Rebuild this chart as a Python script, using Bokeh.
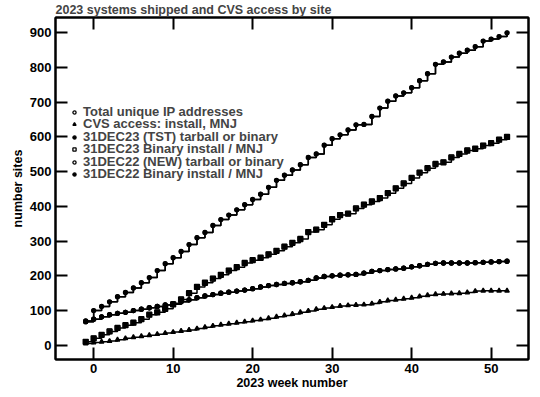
from bokeh.plotting import figure
from bokeh.models import Range1d, LinearAxis, FixedTicker, Legend, LegendItem
from bokeh.embed import file_html
from bokeh.resources import INLINE

weeks = list(range(-1, 53))

total_ip = [70, 100, 112, 125, 140, 152, 165, 180, 195, 215, 235, 252, 270, 290, 310, 325,
            345, 362, 375, 390, 405, 420, 435, 455, 475, 490, 505, 520, 541, 551, 576, 595,
            606, 620, 635, 636, 659, 683, 703, 718, 727, 742, 762, 782, 809, 816, 830, 841,
            850, 860, 876, 882, 889, 900]
cvs_access = [5, 8, 10, 12, 16, 20, 23, 26, 29, 32, 35, 38, 41, 44, 48, 52, 56, 59, 62, 65,
              68, 71, 74, 78, 82, 86, 90, 95, 99, 104, 107, 110, 113, 115, 116, 117, 120, 125,
              129, 131, 134, 137, 141, 144, 147, 148, 149, 150, 152, 156, 157, 157, 157, 157]
tst23_tarball = list(total_ip)
bin23_install = [10, 20, 30, 40, 50, 58, 65, 75, 88, 95, 105, 118, 132, 150, 168, 180, 192,
                 203, 215, 225, 237, 245, 252, 262, 272, 284, 295, 306, 326, 333, 347, 363,
                 375, 379, 394, 405, 414, 424, 438, 452, 466, 482, 497, 510, 522, 527, 541,
                 551, 561, 566, 575, 582, 592, 600]
bin22_install = [68, 75, 82, 88, 92, 95, 100, 104, 108, 112, 116, 120, 125, 131, 137, 142, 146,
                 150, 153, 156, 159, 163, 168, 172, 175, 178, 180, 183, 187, 194, 198, 200,
                 202, 203, 204, 208, 213, 215, 218, 220, 222, 226, 229, 233, 236, 237, 237,
                 237, 237, 238, 239, 240, 241, 242]
new22_tarball = list(bin22_install)

labels = ["Total unique IP addresses", "CVS access: install, MNJ",
          "31DEC23 (TST) tarball or binary", "31DEC23 Binary install / MNJ",
          "31DEC22 (NEW) tarball or binary", "31DEC22 Binary install / MNJ"]
x_ticks = [0, 10, 20, 30, 40, 50]
y_ticks = [0, 100, 200, 300, 400, 500, 600, 700, 800, 900]

FONT = "Liberation Sans"

p = figure(width=538, height=392, output_backend="svg", toolbar_location=None,
           x_range=Range1d(-4.8, 54.7), y_range=Range1d(-41, 944),
           min_border_left=55, min_border_right=10, min_border_top=0, min_border_bottom=10)
p.title.text = "2023 systems shipped and CVS access by site"
p.title.text_font = FONT
p.title.text_font_size = "12.5px"
p.title.text_font_style = "bold"
p.title.align = "left"
p.title.vertical_align = "bottom"
p.title.text_line_height = 1.0
p.title.offset = 0
p.title.standoff = 1
p.grid.visible = False
p.outline_line_color = "black"
p.outline_line_width = 2
p.background_fill_color = "white"

series = [
    (total_ip, "circle", 4, False),
    (cvs_access, "triangle", 4.5, True),
    (tst23_tarball, "circle", 3.5, True),
    (bin23_install, "square", 5, False),
    (new22_tarball, "circle", 4, False),
    (bin22_install, "circle", 4, True),
]
renderers = []
for vals, mk, sz, filled in series:
    p.step(weeks, vals, mode="after", line_color="black", line_width=1.5)
    r = p.scatter(weeks, vals, marker=mk, size=sz, line_color="black", line_width=1.3,
                  fill_color="black" if filled else "white")
    renderers.append(r)

# squares and 2022 circles look solid in the plot
for vals, mk, sz in [(bin23_install, "square", 4.5), (new22_tarball, "circle", 4)]:
    p.scatter(weeks, vals, marker=mk, size=sz, line_color="black", fill_color="black")

# one legend per row so the rows can sit as tightly as in the reference
row_offsets = [240, 228, 215, 203, 190, 178]
for lab, r, oy in zip(labels, renderers, row_offsets):
    lg = Legend(items=[LegendItem(label=lab, renderers=[r])], location=(15, oy),
                padding=0, margin=0, spacing=0,
                border_line_color=None, background_fill_alpha=0,
                label_text_font=FONT, label_text_font_size="13px",
                label_text_font_style="bold",
                label_height=8, glyph_height=8, glyph_width=8, label_standoff=5)
    p.add_layout(lg, "center")


def style_axis(ax, show_labels):
    ax.axis_line_width = 2
    ax.axis_line_color = "black"
    ax.major_tick_in = 12
    ax.major_tick_out = 0
    ax.major_tick_line_width = 2
    ax.minor_tick_line_color = None
    ax.major_label_text_font = FONT
    ax.major_label_text_font_style = "bold"
    ax.major_label_text_color = "black"
    ax.axis_label_text_font = FONT
    ax.axis_label_text_font_style = "bold"
    ax.axis_label_text_font_size = "12.5px"
    ax.axis_label_text_color = "black"
    if show_labels:
        ax.major_label_text_font_size = "13px"
        ax.major_label_standoff = 4
        ax.axis_label_standoff = 2
    else:
        ax.major_label_text_font_size = "0px"
        ax.major_label_standoff = 0


p.xaxis.ticker = FixedTicker(ticks=x_ticks)
p.yaxis.ticker = FixedTicker(ticks=y_ticks)
p.xaxis.axis_label = "2023 week number"
p.yaxis.axis_label = "number sites"
style_axis(p.xaxis[0], True)
style_axis(p.yaxis[0], True)
p.xaxis[0].axis_label_standoff = 0

top = LinearAxis(ticker=FixedTicker(ticks=x_ticks))
right = LinearAxis(ticker=FixedTicker(ticks=y_ticks))
style_axis(top, False)
style_axis(right, False)
p.add_layout(top, "above")
p.add_layout(right, "right")

open("out.html", "w").write(file_html(p, INLINE))
